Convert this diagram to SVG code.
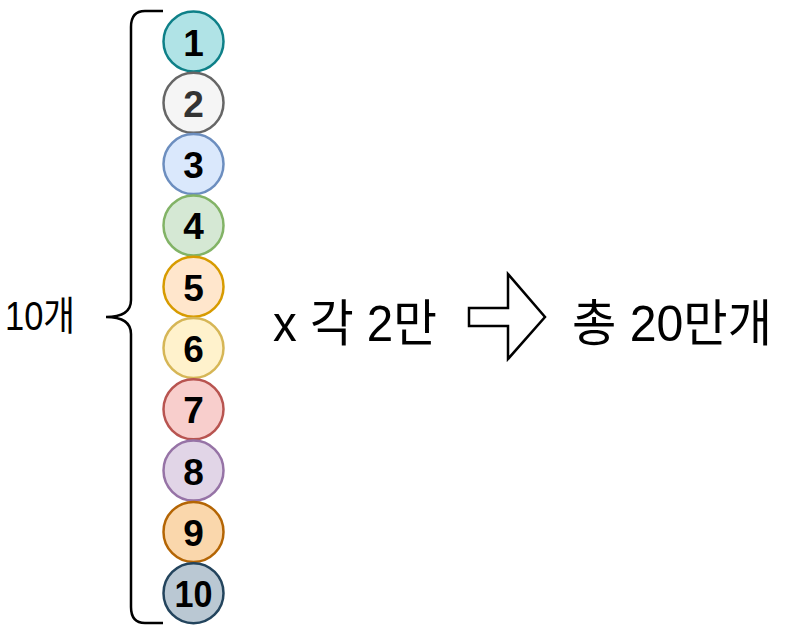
<svg xmlns="http://www.w3.org/2000/svg" width="795" height="640" viewBox="0 0 795 640">
<style>
.n circle{stroke-width:2.5}
.n text{font-family:"Liberation Sans",Arial,sans-serif;font-weight:bold;font-size:37px;text-anchor:middle;fill:#000}
.lbl{font-family:"Liberation Sans","Noto Sans CJK KR",sans-serif;fill:#000}
.line{fill:none;stroke:#000;stroke-width:2.5}
</style>
<rect width="795" height="640" fill="#fff"/>
<g id="brace"><path class="line" d="M163,11 L145,11 Q131,11 131,27 L131,300 Q131,317 106,317 Q131,317 131,334 L131,607 Q131,623 145,623 L163,623"/></g>
<g id="n1" class="n"><circle cx="193.5" cy="41.5" r="30" fill="#b0e3e6" stroke="#0e8088"/><text x="193.5" y="55.5">1</text></g>
<g id="n2" class="n"><circle cx="193.5" cy="102.8" r="30" fill="#f5f5f5" stroke="#666666"/><text x="193.5" y="116.8" style="fill:#333333">2</text></g>
<g id="n3" class="n"><circle cx="193.5" cy="164.1" r="30" fill="#dae8fc" stroke="#6c8ebf"/><text x="193.5" y="178.1">3</text></g>
<g id="n4" class="n"><circle cx="193.5" cy="225.4" r="30" fill="#d5e8d4" stroke="#82b366"/><text x="193.5" y="239.4">4</text></g>
<g id="n5" class="n"><circle cx="193.5" cy="286.7" r="30" fill="#ffe6cc" stroke="#d79b00"/><text x="193.5" y="300.7">5</text></g>
<g id="n6" class="n"><circle cx="193.5" cy="348" r="30" fill="#fff2cc" stroke="#d6b656"/><text x="193.5" y="362">6</text></g>
<g id="n7" class="n"><circle cx="193.5" cy="409.3" r="30" fill="#f8cecc" stroke="#b85450"/><text x="193.5" y="423.3">7</text></g>
<g id="n8" class="n"><circle cx="193.5" cy="470.6" r="30" fill="#e1d5e7" stroke="#9673a6"/><text x="193.5" y="484.6">8</text></g>
<g id="n9" class="n"><circle cx="193.5" cy="531.9" r="30" fill="#fad7ac" stroke="#b46504"/><text x="193.5" y="545.9">9</text></g>
<g id="n10" class="n"><circle cx="193.5" cy="593.2" r="30" fill="#bac8d3" stroke="#23445d"/><text x="193.5" y="607" textLength="38" lengthAdjust="spacingAndGlyphs">10</text></g>
<g id="count"><text class="lbl" x="5" y="330" font-size="40" textLength="70" lengthAdjust="spacingAndGlyphs">10개</text></g>
<g id="mult"><text class="lbl" x="273" y="341" font-size="50" textLength="164" lengthAdjust="spacingAndGlyphs">x 각 2만</text></g>
<g id="arrow"><polygon points="469,308 508,308 508,274 545,317 508,359 508,326 469,326" fill="#fff" stroke="#000" stroke-width="2.5" stroke-linejoin="miter"/></g>
<g id="total"><text class="lbl" x="572" y="341" font-size="50" textLength="200" lengthAdjust="spacingAndGlyphs">총 20만개</text></g>
</svg>
